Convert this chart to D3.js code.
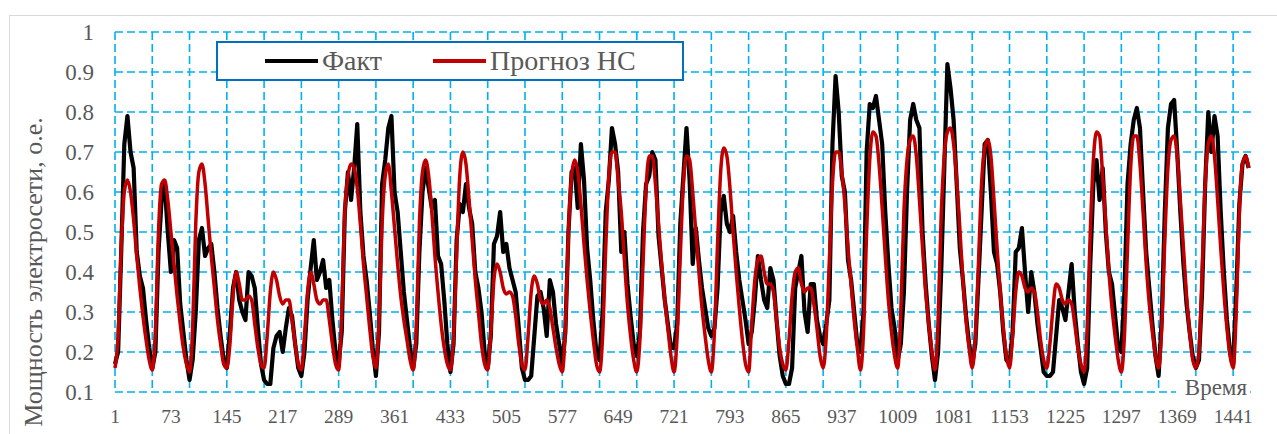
<!DOCTYPE html>
<html>
<head>
<meta charset="utf-8">
<script src="https://cdn.jsdelivr.net/npm/d3@7"></script>
<style>
  body { margin: 0; background: #fff; }
</style>
</head>
<body>
<script>
const width = 1277;
const height = 434;

// half-hourly index, values sampled every 4 points (2 h), starting at point 1
const sampleStep = 4;
const lastPoint = 1464;
const xTickLabels = [1, 73, 145, 217, 289, 361, 433, 505, 577, 649, 721, 793, 865, 937, 1009, 1081, 1153, 1225, 1297, 1369, 1441];
const yTickLabels = [0.1, 0.2, 0.3, 0.4, 0.5, 0.6, 0.7, 0.8, 0.9, 1];
const seriesNames = ['Факт', 'Прогноз НС'];

const factValues = [
    0.17, 0.20, 0.45, 0.72, 0.79, 0.70, 0.66, 0.45, 0.39, 0.36, 0.28, 0.21,
    0.16, 0.20, 0.45, 0.58, 0.62, 0.50, 0.40, 0.48, 0.46, 0.32, 0.25, 0.18,
    0.13, 0.18, 0.30, 0.48, 0.51, 0.44, 0.46, 0.47, 0.40, 0.31, 0.24, 0.18,
    0.16, 0.25, 0.36, 0.40, 0.33, 0.30, 0.28, 0.40, 0.39, 0.36, 0.26, 0.17,
    0.13, 0.12, 0.12, 0.21, 0.24, 0.25, 0.20, 0.26, 0.31, 0.29, 0.22, 0.16,
    0.14, 0.20, 0.33, 0.41, 0.48, 0.38, 0.40, 0.43, 0.36, 0.38, 0.28, 0.20,
    0.17, 0.25, 0.55, 0.65, 0.58, 0.66, 0.77, 0.55, 0.44, 0.38, 0.30, 0.21,
    0.14, 0.25, 0.62, 0.68, 0.76, 0.79, 0.60, 0.55, 0.45, 0.35, 0.28, 0.21,
    0.16, 0.22, 0.45, 0.60, 0.66, 0.61, 0.56, 0.58, 0.44, 0.42, 0.33, 0.22,
    0.15, 0.22, 0.48, 0.57, 0.55, 0.62, 0.56, 0.52, 0.40, 0.36, 0.30, 0.20,
    0.16, 0.24, 0.47, 0.49, 0.55, 0.45, 0.47, 0.41, 0.38, 0.35, 0.26, 0.16,
    0.13, 0.13, 0.14, 0.24, 0.34, 0.35, 0.31, 0.24, 0.38, 0.35, 0.27, 0.22,
    0.17, 0.25, 0.50, 0.65, 0.66, 0.56, 0.72, 0.63, 0.46, 0.38, 0.28, 0.20,
    0.18, 0.30, 0.55, 0.63, 0.76, 0.72, 0.65, 0.45, 0.50, 0.37, 0.29, 0.22,
    0.19, 0.25, 0.50, 0.62, 0.64, 0.70, 0.68, 0.49, 0.41, 0.33, 0.27, 0.21,
    0.21, 0.27, 0.52, 0.64, 0.76, 0.63, 0.42, 0.51, 0.43, 0.36, 0.31, 0.26,
    0.24, 0.26, 0.36, 0.55, 0.59, 0.52, 0.50, 0.54, 0.45, 0.38, 0.33, 0.28,
    0.22, 0.25, 0.33, 0.44, 0.38, 0.33, 0.31, 0.41, 0.38, 0.28, 0.19, 0.14,
    0.12, 0.12, 0.16, 0.36, 0.40, 0.44, 0.30, 0.25, 0.37, 0.37, 0.28, 0.24,
    0.22, 0.27, 0.33, 0.72, 0.89, 0.80, 0.64, 0.60, 0.43, 0.38, 0.30, 0.22,
    0.20, 0.30, 0.70, 0.82, 0.81, 0.84, 0.78, 0.72, 0.55, 0.42, 0.31, 0.26,
    0.18, 0.22, 0.35, 0.60, 0.78, 0.82, 0.78, 0.76, 0.50, 0.37, 0.27, 0.19,
    0.13, 0.20, 0.40, 0.66, 0.92, 0.86, 0.78, 0.62, 0.46, 0.38, 0.29, 0.22,
    0.17, 0.22, 0.38, 0.55, 0.72, 0.73, 0.60, 0.45, 0.42, 0.35, 0.25, 0.18,
    0.17, 0.25, 0.45, 0.46, 0.51, 0.40, 0.30, 0.40, 0.35, 0.27, 0.21, 0.15,
    0.14, 0.14, 0.15, 0.24, 0.33, 0.31, 0.28, 0.35, 0.42, 0.30, 0.22, 0.15,
    0.12, 0.16, 0.42, 0.62, 0.68, 0.58, 0.66, 0.50, 0.40, 0.37, 0.29, 0.21,
    0.20, 0.35, 0.62, 0.72, 0.78, 0.81, 0.76, 0.60, 0.45, 0.36, 0.27, 0.19,
    0.14, 0.28, 0.55, 0.76, 0.82, 0.83, 0.70, 0.55, 0.42, 0.32, 0.25, 0.19,
    0.16, 0.18, 0.35, 0.62, 0.80, 0.70, 0.79, 0.74, 0.55, 0.40, 0.28, 0.20,
    0.17, 0.35, 0.57, 0.67, 0.69, 0.66
];

const forecastValues = [
    0.16, 0.24, 0.46, 0.60, 0.63, 0.60, 0.53, 0.44, 0.36, 0.29, 0.23, 0.18,
    0.155, 0.25, 0.50, 0.62, 0.63, 0.58, 0.50, 0.42, 0.34, 0.27, 0.21, 0.17,
    0.15, 0.26, 0.52, 0.65, 0.67, 0.62, 0.53, 0.44, 0.36, 0.28, 0.22, 0.17,
    0.16, 0.22, 0.34, 0.40, 0.37, 0.33, 0.33, 0.34, 0.33, 0.27, 0.21, 0.17,
    0.16, 0.24, 0.35, 0.40, 0.38, 0.34, 0.32, 0.33, 0.33, 0.28, 0.22, 0.17,
    0.155, 0.24, 0.35, 0.40, 0.37, 0.33, 0.32, 0.33, 0.33, 0.28, 0.22, 0.17,
    0.155, 0.30, 0.55, 0.64, 0.67, 0.66, 0.61, 0.52, 0.42, 0.34, 0.26, 0.19,
    0.16, 0.28, 0.52, 0.64, 0.67, 0.60, 0.51, 0.42, 0.34, 0.28, 0.23, 0.18,
    0.155, 0.26, 0.52, 0.65, 0.68, 0.64, 0.55, 0.44, 0.35, 0.27, 0.21, 0.17,
    0.155, 0.24, 0.45, 0.64, 0.70, 0.67, 0.58, 0.48, 0.38, 0.30, 0.22, 0.17,
    0.155, 0.25, 0.38, 0.42, 0.40, 0.36, 0.345, 0.35, 0.34, 0.29, 0.22, 0.17,
    0.155, 0.24, 0.35, 0.39, 0.37, 0.33, 0.32, 0.33, 0.31, 0.26, 0.21, 0.17,
    0.15, 0.26, 0.50, 0.64, 0.68, 0.65, 0.57, 0.47, 0.38, 0.30, 0.23, 0.17,
    0.15, 0.24, 0.46, 0.64, 0.70, 0.70, 0.63, 0.55, 0.43, 0.32, 0.24, 0.18,
    0.15, 0.23, 0.42, 0.61, 0.69, 0.69, 0.62, 0.52, 0.42, 0.33, 0.26, 0.19,
    0.15, 0.24, 0.44, 0.62, 0.69, 0.68, 0.60, 0.50, 0.40, 0.31, 0.24, 0.18,
    0.15, 0.25, 0.47, 0.65, 0.71, 0.69, 0.61, 0.50, 0.40, 0.31, 0.23, 0.17,
    0.15, 0.27, 0.38, 0.43, 0.44, 0.40, 0.37, 0.37, 0.35, 0.28, 0.21, 0.17,
    0.155, 0.23, 0.34, 0.40, 0.41, 0.37, 0.35, 0.36, 0.36, 0.32, 0.26, 0.19,
    0.16, 0.24, 0.43, 0.62, 0.70, 0.70, 0.65, 0.57, 0.46, 0.37, 0.28, 0.21,
    0.155, 0.25, 0.50, 0.68, 0.75, 0.74, 0.67, 0.56, 0.44, 0.33, 0.25, 0.19,
    0.16, 0.30, 0.55, 0.68, 0.73, 0.74, 0.69, 0.58, 0.46, 0.35, 0.27, 0.20,
    0.155, 0.28, 0.54, 0.69, 0.75, 0.76, 0.72, 0.63, 0.51, 0.38, 0.28, 0.21,
    0.16, 0.24, 0.42, 0.62, 0.71, 0.73, 0.69, 0.58, 0.46, 0.35, 0.26, 0.19,
    0.16, 0.24, 0.35, 0.40, 0.39, 0.36, 0.35, 0.36, 0.35, 0.30, 0.23, 0.18,
    0.16, 0.22, 0.31, 0.37, 0.36, 0.33, 0.32, 0.33, 0.32, 0.27, 0.21, 0.17,
    0.15, 0.26, 0.50, 0.68, 0.75, 0.74, 0.64, 0.52, 0.40, 0.31, 0.24, 0.18,
    0.15, 0.24, 0.46, 0.66, 0.74, 0.74, 0.67, 0.55, 0.42, 0.32, 0.25, 0.19,
    0.16, 0.26, 0.48, 0.66, 0.73, 0.74, 0.69, 0.58, 0.46, 0.34, 0.25, 0.18,
    0.16, 0.20, 0.40, 0.62, 0.72, 0.74, 0.69, 0.58, 0.46, 0.35, 0.26, 0.19,
    0.16, 0.30, 0.55, 0.67, 0.69, 0.66
];

const serifFont = '"Liberation Serif", "DejaVu Serif", serif';

let svg = d3.select('body')
    .append('svg')
    .attr('width', width)
    .attr('height', height)
    .attr('font-family', serifFont);

svg.append('rect')
    .attr('width', width)
    .attr('height', height)
    .attr('fill', '#fff');

// outer chart frame (cut by the picture edge)
svg.append('rect')
    .attr('x', 9.5)
    .attr('y', 15.5)
    .attr('width', 1400)
    .attr('height', 600)
    .attr('fill', 'none')
    .attr('stroke', '#d9d9d9')
    .attr('stroke-width', 1);

let plot = { left: 115, right: 1251, top: 32, bottom: 392 };

let xScale = d3.scaleLinear()
    .domain([1, lastPoint])
    .range([plot.left, plot.right]);

let yScale = d3.scaleLinear()
    .domain([0.1, 1])
    .range([plot.bottom, plot.top]);

const gridColor = '#00b0f0';
const labelColor = '#595959';

let gridGroup = svg.append('g').classed('grid', true);

gridGroup.selectAll('.hgrid')
    .data(yTickLabels)
    .enter()
    .append('line')
    .classed('hgrid', true)
    .attr('x1', plot.left)
    .attr('x2', plot.right)
    .attr('y1', d => yScale(d))
    .attr('y2', d => yScale(d))
    .attr('stroke', gridColor)
    .attr('stroke-width', 1.6)
    .attr('stroke-dasharray', '8,4');

let vGridValues = d3.range(1, lastPoint, 48);
gridGroup.selectAll('.vgrid')
    .data(vGridValues)
    .enter()
    .append('line')
    .classed('vgrid', true)
    .attr('x1', d => xScale(d))
    .attr('x2', d => xScale(d))
    .attr('y1', plot.top)
    .attr('y2', plot.bottom)
    .attr('stroke', gridColor)
    .attr('stroke-width', 1.6)
    .attr('stroke-dasharray', '8,4');

// y axis labels
svg.append('g')
    .selectAll('text')
    .data(yTickLabels)
    .enter()
    .append('text')
    .attr('x', 94)
    .attr('y', d => yScale(d) + 8)
    .attr('text-anchor', 'end')
    .attr('font-size', 23)
    .attr('fill', labelColor)
    .text(d => d);

// x axis labels
svg.append('g')
    .selectAll('text')
    .data(xTickLabels)
    .enter()
    .append('text')
    .attr('x', d => xScale(d))
    .attr('y', 423)
    .attr('text-anchor', 'middle')
    .attr('font-size', 19.5)
    .attr('fill', labelColor)
    .text(d => d);

// axis title
svg.append('text')
    .attr('transform', 'translate(42, 272) rotate(-90)')
    .attr('text-anchor', 'middle')
    .attr('font-size', 26)
    .attr('fill', labelColor)
    .text('Мощность электросети, о.е.');

// series
let toPoints = values => values.map((v, i) => ({ t: 1 + i * sampleStep, v: v }));

let factLine = d3.line()
    .x(d => xScale(d.t))
    .y(d => yScale(d.v))
    .curve(d3.curveLinear);

let forecastLine = d3.line()
    .x(d => xScale(d.t))
    .y(d => yScale(d.v))
    .curve(d3.curveMonotoneX);

let linesGroup = svg.append('g').classed('lines', true);

linesGroup.append('path')
    .datum(toPoints(factValues))
    .attr('d', factLine)
    .attr('fill', 'none')
    .attr('stroke', '#000')
    .attr('stroke-width', 4.2)
    .attr('stroke-linejoin', 'round');

linesGroup.append('path')
    .datum(toPoints(forecastValues))
    .attr('d', forecastLine)
    .attr('fill', 'none')
    .attr('stroke', '#c00000')
    .attr('stroke-width', 3.5)
    .attr('stroke-linejoin', 'round');

// "Время" label sits on a white patch over the bottom grid line
let timeLabel = svg.append('g');
timeLabel.append('rect')
    .attr('x', 1176)
    .attr('y', 376)
    .attr('width', 74)
    .attr('height', 24)
    .attr('fill', '#fff');
timeLabel.append('text')
    .attr('x', 1247)
    .attr('y', 395)
    .attr('text-anchor', 'end')
    .attr('font-size', 23)
    .attr('fill', labelColor)
    .text('Время');

// legend
let legend = svg.append('g').classed('legend', true);
legend.append('rect')
    .attr('x', 217)
    .attr('y', 42)
    .attr('width', 466)
    .attr('height', 38)
    .attr('fill', '#fff')
    .attr('stroke', '#0070c0')
    .attr('stroke-width', 2);

let legendItems = [
    { name: seriesNames[0], color: '#000', x: 265 },
    { name: seriesNames[1], color: '#c00000', x: 433 }
];

legendItems.forEach(item => {
    legend.append('line')
        .attr('x1', item.x)
        .attr('x2', item.x + 53)
        .attr('y1', 61)
        .attr('y2', 61)
        .attr('stroke', item.color)
        .attr('stroke-width', 4);
    legend.append('text')
        .attr('x', item.x + 57)
        .attr('y', 70)
        .attr('font-size', 28)
        .attr('fill', labelColor)
        .text(item.name);
});
</script>
</body>
</html>
